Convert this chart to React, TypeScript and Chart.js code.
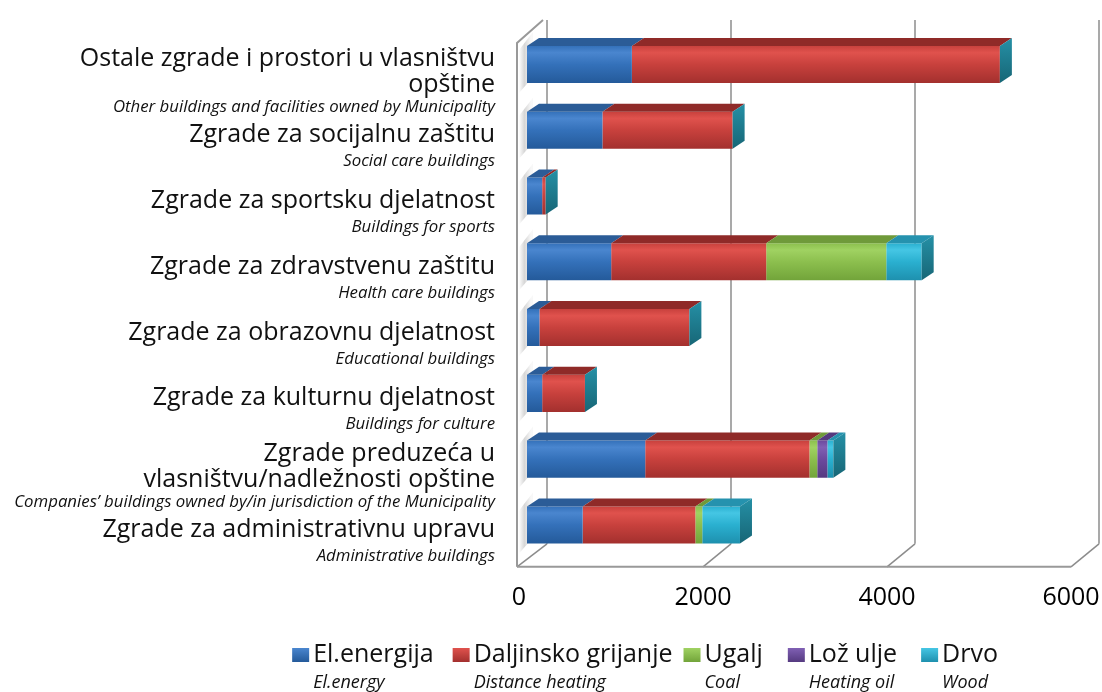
import React, { useEffect, useRef } from 'react';
import { Chart, registerables } from 'chart.js';

Chart.register(...registerables);

// ---------- data ----------
const categories = [
  'Ostale zgrade i prostori u vlasništvu opštine',
  'Zgrade za socijalnu zaštitu',
  'Zgrade za sportsku djelatnost',
  'Zgrade za zdravstvenu zaštitu',
  'Zgrade za obrazovnu djelatnost',
  'Zgrade za kulturnu djelatnost',
  'Zgrade preduzeća u vlasništvu/nadležnosti opštine',
  'Zgrade za administrativnu upravu',
];
const categoryLines = [
  ['Ostale zgrade i prostori u vlasništvu', 'opštine'],
  ['Zgrade za socijalnu zaštitu'],
  ['Zgrade za sportsku djelatnost'],
  ['Zgrade za zdravstvenu zaštitu'],
  ['Zgrade za obrazovnu djelatnost'],
  ['Zgrade za kulturnu djelatnost'],
  ['Zgrade preduzeća u', 'vlasništvu/nadležnosti opštine'],
  ['Zgrade za administrativnu upravu'],
];
const categoriesEn = [
  'Other buildings and facilities owned by Municipality',
  'Social care buildings',
  'Buildings for sports',
  'Health care buildings',
  'Educational buildings',
  'Buildings for culture',
  'Companies’ buildings owned by/in jurisdiction of the Municipality',
  'Administrative buildings',
];

const seriesNames = ['El.energija', 'Daljinsko grijanje', 'Ugalj', 'Lož ulje', 'Drvo'];
const seriesNamesEn = ['El.energy', 'Distance heating', 'Coal', 'Heating oil', 'Wood'];

const elEnergija = [1140, 820, 165, 915, 135, 165, 1285, 605];
const daljinsko = [4000, 1415, 38, 1685, 1630, 465, 1785, 1225];
const ugalj = [0, 0, 0, 1305, 0, 0, 85, 75];
const lozUlje = [0, 0, 0, 0, 0, 0, 110, 0];
const drvo = [0, 0, 0, 385, 0, 0, 65, 410];

const xTickValues = [0, 2000, 4000, 6000];

// ---------- styles ----------
const FONT = '"Open Sans", "Noto Sans", "DejaVu Sans", sans-serif';
const baseColors = ['#3471BA', '#C8413D', '#8CBF4E', '#6C4A9E', '#2AB0D0'];
const lightColors = ['#4A86CF', '#E0524D', '#A0D262', '#8060B4', '#45C6E4'];
const darkColors = ['#245A9A', '#A3302E', '#72A43A', '#553A80', '#1E90AE'];
const topColors = ['#2B5C97', '#8F2A28', '#6F9A3A', '#54397E', '#2592AE'];
const legendGapsBefore = [0, 19, 11, 25, 24];
const CAP_LIGHT = '#2590A6';
const CAP_DARK = '#176676';
const BAR_DX = 12;
const BAR_DY = 8;

const makeFill = (d: number) => (c: any) => {
  const chart = c.chart;
  const ys = chart.scales && chart.scales.y;
  if (!chart.chartArea || !ys || c.dataIndex === undefined) return baseColors[d];
  const y = ys.getPixelForValue(c.dataIndex);
  const band = (chart.chartArea.bottom - chart.chartArea.top) / categories.length;
  const h = band * 0.563;
  const g = chart.ctx.createLinearGradient(0, y - h / 2, 0, y + h / 2);
  g.addColorStop(0, baseColors[d]);
  g.addColorStop(0.18, lightColors[d]);
  g.addColorStop(0.5, baseColors[d]);
  g.addColorStop(1, darkColors[d]);
  return g;
};

const framePlugin = {
  id: 'frame3d',
  beforeDatasetsDraw(chart: any) {
    const { ctx, chartArea } = chart;
    const xs = chart.scales.x;
    const ys = chart.scales.y;
    const fy = chartArea.bottom + 9;
    const by = fy - 23;
    const fx = (v: number) => xs.getPixelForValue(v) - 8;
    const bx = (v: number) => xs.getPixelForValue(v) + 20;
    const topY = 20;
    ctx.save();
    // soft wall shadows beside bars
    const band = (chartArea.bottom - chartArea.top) / categories.length;
    const h = band * 0.563;
    categories.forEach((_, i) => {
      const y = ys.getPixelForValue(i);
      const x0 = fx(0);
      const x1 = xs.getPixelForValue(0);
      const g = ctx.createLinearGradient(x0, 0, x1 + 4, 0);
      g.addColorStop(0, 'rgba(110,110,110,0.0)');
      g.addColorStop(0.45, 'rgba(110,110,110,0.28)');
      g.addColorStop(1, 'rgba(110,110,110,0.05)');
      ctx.fillStyle = g;
      ctx.beginPath();
      ctx.moveTo(x0, y - h / 2 + 4);
      ctx.lineTo(x1 + 6, y - h / 2 - 14);
      ctx.lineTo(x1 + 6, y + h / 2 - 6);
      ctx.lineTo(x0, y + h / 2 + 10);
      ctx.closePath();
      ctx.fill();
    });
    ctx.strokeStyle = '#8c8c8c';
    ctx.lineWidth = 1.5;
    // back wall gridlines
    xTickValues.forEach((v) => {
      ctx.beginPath();
      ctx.moveTo(bx(v), topY);
      ctx.lineTo(bx(v), by);
      ctx.stroke();
    });
    // floor slants
    xTickValues.forEach((v) => {
      ctx.beginPath();
      ctx.moveTo(fx(v) - (v === 0 ? 2 : 0), fy);
      ctx.lineTo(bx(v), by);
      ctx.stroke();
    });
    ctx.lineWidth = 2;
    ctx.strokeStyle = '#999';
    // front floor edge
    ctx.beginPath();
    ctx.moveTo(fx(0) - 2, fy);
    ctx.lineTo(fx(6000), fy);
    ctx.stroke();
    // left wall front edge
    ctx.beginPath();
    ctx.moveTo(fx(0) - 2, fy);
    ctx.lineTo(fx(0) - 2, topY + 23);
    ctx.lineTo(bx(0) - 4, topY);
    ctx.stroke();
    ctx.restore();
  },
  afterDatasetsDraw(chart: any) {
    const { ctx } = chart;
    const xs = chart.scales.x;
    ctx.save();
    categories.forEach((_, i) => {
      let endX = xs.getPixelForValue(0);
      let top = 0;
      let bottom = 0;
      chart.data.datasets.forEach((ds: any, d: number) => {
        const el = chart.getDatasetMeta(d).data[i];
        if (!el) return;
        const p = el.getProps(['x', 'y', 'base', 'height'], true);
        top = p.y - p.height / 2;
        bottom = p.y + p.height / 2;
        const v = ds.data[i];
        if (!v) return;
        const x0 = Math.min(p.base, p.x);
        const x1 = Math.max(p.base, p.x);
        ctx.fillStyle = topColors[d];
        ctx.beginPath();
        ctx.moveTo(x0, top);
        ctx.lineTo(x1, top);
        ctx.lineTo(x1 + BAR_DX, top - BAR_DY);
        ctx.lineTo(x0 + BAR_DX, top - BAR_DY);
        ctx.closePath();
        ctx.fill();
        endX = Math.max(endX, x1);
      });
      const g = ctx.createLinearGradient(0, top - BAR_DY, 0, bottom);
      g.addColorStop(0, CAP_LIGHT);
      g.addColorStop(1, CAP_DARK);
      ctx.fillStyle = g;
      ctx.beginPath();
      ctx.moveTo(endX, top);
      ctx.lineTo(endX + BAR_DX, top - BAR_DY);
      ctx.lineTo(endX + BAR_DX, bottom - BAR_DY);
      ctx.lineTo(endX, bottom);
      ctx.closePath();
      ctx.fill();
    });
    ctx.restore();
  },
};

const labelsPlugin = {
  id: 'catLabels',
  afterDraw(chart: any) {
    const { ctx } = chart;
    const ys = chart.scales.y;
    ctx.save();
    ctx.textAlign = 'right';
    ctx.textBaseline = 'alphabetic';
    ctx.fillStyle = '#111';
    categoryLines.forEach((lines, i) => {
      const y = ys.getPixelForValue(i);
      const n = lines.length;
      const first = n === 1 ? y + 12 : y + 2;
      ctx.font = `25px ${FONT}`;
      lines.forEach((t, k) => ctx.fillText(t, 495, first + k * 26));
      const last = first + (n - 1) * 26;
      ctx.font = `italic 16.8px ${FONT}`;
      ctx.fillText(categoriesEn[i], 495, last + (n === 1 ? 24 : 20));
    });

    // legend
    ctx.textAlign = 'left';
    ctx.font = `25px ${FONT}`;
    const widths = seriesNames.map((s) => ctx.measureText(s).width);
    const box = 17;
    const boxGap = 4;
    const total =
      widths.reduce((a, w) => a + box + boxGap + w, 0) + legendGapsBefore.reduce((a, g) => a + g, 0);
    let x = 998 - total;
    seriesNames.forEach((s, d) => {
      x += legendGapsBefore[d];
      const g = ctx.createLinearGradient(x, 648, x, 662);
      g.addColorStop(0, lightColors[d]);
      g.addColorStop(1, darkColors[d]);
      ctx.fillStyle = g;
      ctx.fillRect(x, 648, box, 14);
      ctx.fillStyle = '#111';
      ctx.font = `25px ${FONT}`;
      ctx.fillText(s, x + box + boxGap, 662);
      ctx.font = `italic 18px ${FONT}`;
      ctx.fillText(seriesNamesEn[d], x + box + boxGap, 688);
      x += box + boxGap + widths[d];
    });
    ctx.restore();
  },
};

export default function App() {
  const ref = useRef<HTMLCanvasElement | null>(null);
  useEffect(() => {
    if (!ref.current) return;
    const series = [elEnergija, daljinsko, ugalj, lozUlje, drvo];
    const chart = new Chart(ref.current, {
      type: 'bar',
      data: {
        labels: categories,
        datasets: series.map((data, d) => ({
          label: seriesNames[d],
          data,
          backgroundColor: makeFill(d),
          borderWidth: 0,
          categoryPercentage: 1,
          barPercentage: 0.563,
        })),
      },
      options: {
        indexAxis: 'y',
        responsive: false,
        maintainAspectRatio: false,
        animation: false,
        layout: { padding: { left: 527, right: 31, top: 31.6, bottom: 55 } },
        plugins: { legend: { display: false }, tooltip: { enabled: false } },
        scales: {
          x: {
            stacked: true,
            min: 0,
            max: 6000,
            grid: { display: false, drawTicks: false },
            border: { display: false },
            ticks: {
              stepSize: 2000,
              padding: 24.6,
              labelOffset: -8,
              autoSkip: false,
              maxRotation: 0,
              color: '#000',
              font: { family: FONT, size: 25 },
              callback: (v: any) => String(v),
            },
            afterFit: (s: any) => {
              s.paddingLeft = 0;
              s.paddingRight = 0;
            },
          },
          y: { stacked: true, display: false },
        },
      } as any,
      plugins: [framePlugin, labelsPlugin],
    });
    return () => chart.destroy();
  }, []);
  return (
    <div style={{ position: 'fixed', left: 0, top: 0, width: 1102, height: 692, overflow: 'hidden', background: '#fff' }}>
      <canvas ref={ref} width={1110} height={692} style={{ display: 'block' }} />
    </div>
  );
}
